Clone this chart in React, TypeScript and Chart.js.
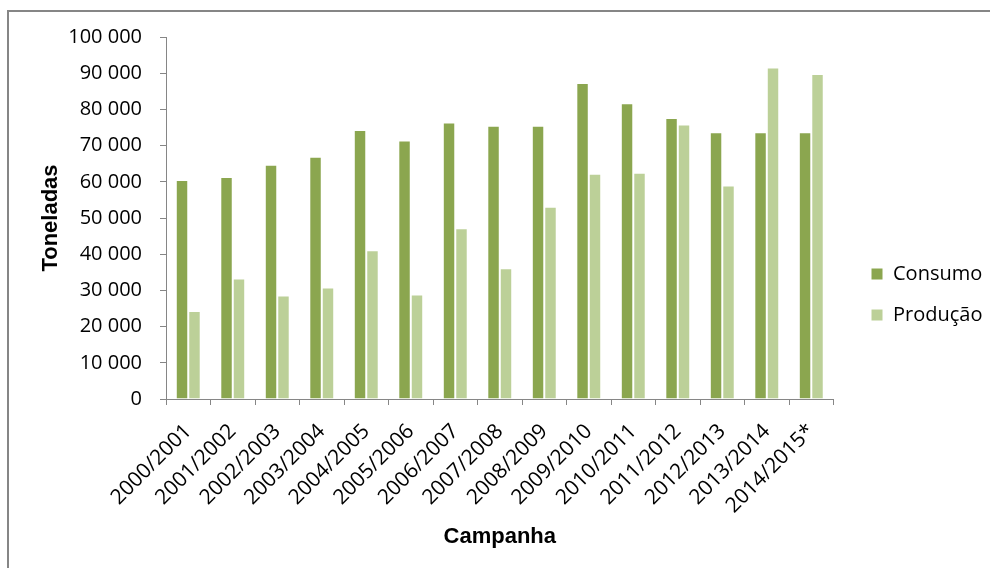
import React, { useEffect, useRef } from "react";
import { Chart, registerables } from "chart.js";

Chart.register(...registerables);

const categories = [
  "2000/2001", "2001/2002", "2002/2003", "2003/2004", "2004/2005",
  "2005/2006", "2006/2007", "2007/2008", "2008/2009", "2009/2010",
  "2010/2011", "2011/2012", "2012/2013", "2013/2014", "2014/2015*",
];
const consumo = [60500, 61300, 64700, 66900, 74300, 71400, 76400, 75500, 75500, 87300, 81700, 77600, 73700, 73700, 73700];
const producao = [24300, 33300, 28600, 30800, 41100, 28900, 47200, 36100, 53100, 62200, 62500, 75800, 59000, 91600, 89800];
const yMin = 0;
const yMax = 100000;
const yStep = 10000;

const fmt = (v: number) => String(v).replace(/\B(?=(\d{3})+(?!\d))/g, " ");

const AXIS_GRAY = "#868686";
const TICK_FONT = { family: "'Open Sans', 'DejaVu Sans', sans-serif", size: 20 };
const XTICK_FONT = { family: "'Open Sans', 'DejaVu Sans', sans-serif", size: 21 };
const TITLE_FONT = { family: "'Liberation Sans', Arial, sans-serif", size: 22, weight: "bold" as const };

const legendShift = {
  id: "legendShift",
  afterLayout(chart: any) {
    const lg = chart.legend;
    if (!lg) return;
    const pad = lg.options.labels.padding;
    const shift = 871 - (lg.left + pad);
    lg.left += shift;
    lg.right += shift;
  },
};

export default function App() {
  const ref = useRef<HTMLCanvasElement | null>(null);
  useEffect(() => {
    if (!ref.current) return;
    const chart = new Chart(ref.current, {
      type: "bar",
      data: {
        labels: categories,
        datasets: [
          {
            label: "Consumo",
            data: consumo,
            backgroundColor: "#8ba64f",
            borderColor: "#ffffff",
            borderWidth: 1,
            categoryPercentage: 0.56,
            barPercentage: 1,
          },
          {
            label: "Produção",
            data: producao,
            backgroundColor: "#bcd098",
            borderColor: "#ffffff",
            borderWidth: 1,
            categoryPercentage: 0.56,
            barPercentage: 1,
          },
        ],
      },
      options: {
        responsive: false,
        animation: false,
        devicePixelRatio: 1,
        layout: { padding: { left: 0, top: 37, right: 14, bottom: 16 } },
        plugins: {
          tooltip: { enabled: false },
          legend: {
            position: "right",
            labels: {
              boxWidth: 12,
              boxHeight: 12,
              padding: 21,
              color: "#000",
              font: TICK_FONT,
            },
          },
        },
        scales: {
          x: {
            grid: {
              drawOnChartArea: false,
              drawTicks: true,
              tickLength: 6,
              color: AXIS_GRAY,
              offset: true,
            },
            border: { color: AXIS_GRAY, width: 1 },
            ticks: {
              color: "#000",
              font: XTICK_FONT,
              minRotation: 45,
              maxRotation: 45,
              padding: 14,
              autoSkip: false,
            },
            title: {
              display: true,
              text: "Campanha",
              color: "#000",
              font: TITLE_FONT,
              padding: { top: 0, bottom: 2 },
            },
            afterFit: (s: any) => {
              s.height = 153;
            },
          },
          y: {
            min: yMin,
            max: yMax,
            grid: {
              drawOnChartArea: false,
              drawTicks: true,
              tickLength: 6,
              color: AXIS_GRAY,
            },
            border: { color: AXIS_GRAY, width: 1 },
            ticks: {
              stepSize: yStep,
              color: "#000",
              font: TICK_FONT,
              padding: 18,
              callback: (v: any) => fmt(Number(v)),
            },
            title: {
              display: true,
              text: "Toneladas",
              color: "#000",
              font: TITLE_FONT,
              padding: { top: 38, bottom: 0 },
            },
            afterFit: (s: any) => {
              s.width = 166;
            },
          },
        },
      },
      plugins: [legendShift],
    });
    return () => chart.destroy();
  }, []);

  return (
    <div style={{ position: "absolute", left: 0, top: 0, width: 990, height: 568, background: "#fff", overflow: "hidden" }}>
      <div
        style={{
          position: "absolute",
          left: 7,
          top: 10,
          width: 1200,
          height: 800,
          borderLeft: "2px solid #868686",
          borderTop: "2px solid #868686",
          boxSizing: "border-box",
        }}
      />
      <canvas ref={ref} width={990} height={568} style={{ position: "absolute", left: 0, top: 0, width: 990, height: 568 }} />
    </div>
  );
}
